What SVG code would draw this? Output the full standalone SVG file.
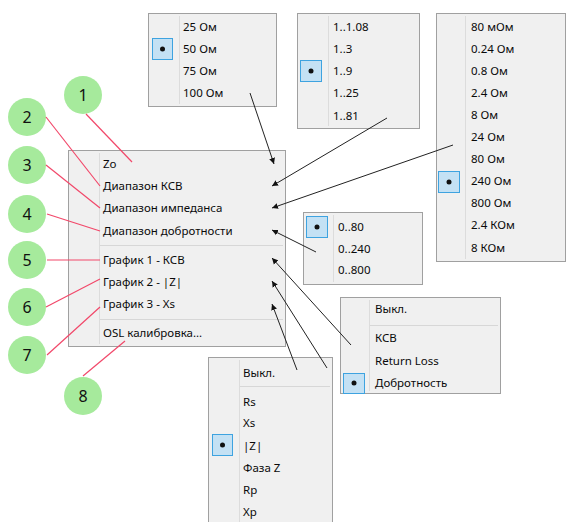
<svg xmlns="http://www.w3.org/2000/svg" width="567" height="522" viewBox="0 0 567 522">
  <style>
    .menu { fill: #f0f0f0; stroke: #a0a0a0; stroke-width: 1; }
    .gutter { stroke: #dcdcdc; stroke-width: 1; }
    .sep { stroke: #d7d7d7; stroke-width: 1; }
    .item { font-family: "Noto Sans", "Open Sans", sans-serif; font-size: 11.5px; fill: #0a0a0a; }
    .chk { fill: #c4e1f4; stroke: #3ea3e0; stroke-width: 1; }
    .dot { fill: #111; }
    .badge { fill: #a6ea9c; }
    .num { font-family: "Noto Sans", "Liberation Sans", sans-serif; font-size: 16px; fill: #111; text-anchor: middle; }
    .lead { stroke: #f2486a; stroke-width: 1.2; fill: none; }
    .link { stroke: #222; stroke-width: 1; fill: none; marker-end: url(#tri); }
  </style>
  <defs>
    <marker id="tri" viewBox="0 0 7 7" refX="6" refY="3.5" markerWidth="7" markerHeight="7" markerUnits="userSpaceOnUse" orient="auto">
      <path d="M0,0.5 L6,3.5 L0,6.5 Z" fill="#111"/>
    </marker>
  </defs>

  <!-- Zo submenu -->
  <g id="menu-zo">
    <rect class="menu" x="148.5" y="13.5" width="128" height="93"/>
    <line class="gutter" x1="179.5" y1="16" x2="179.5" y2="104"/>
    <rect class="chk" x="152.5" y="38.5" width="20" height="21"/>
    <circle class="dot" cx="162.5" cy="49" r="2.5"/>
    <text class="item" x="183" y="31">25 Ом</text>
    <text class="item" x="183" y="53">50 Ом</text>
    <text class="item" x="183" y="75">75 Ом</text>
    <text class="item" x="183" y="97">100 Ом</text>
  </g>

  <!-- VSWR range submenu -->
  <g id="menu-vswr">
    <rect class="menu" x="297.5" y="13.5" width="122" height="115"/>
    <line class="gutter" x1="328.5" y1="16" x2="328.5" y2="126"/>
    <rect class="chk" x="300.5" y="60.5" width="21" height="21"/>
    <circle class="dot" cx="311" cy="71" r="2.5"/>
    <text class="item" x="333" y="31">1..1.08</text>
    <text class="item" x="333" y="53">1..3</text>
    <text class="item" x="333" y="75">1..9</text>
    <text class="item" x="333" y="97">1..25</text>
    <text class="item" x="333" y="120">1..81</text>
  </g>

  <!-- Impedance range submenu -->
  <g id="menu-impedance">
    <rect class="menu" x="436.5" y="13.5" width="129" height="248"/>
    <line class="gutter" x1="465.5" y1="16" x2="465.5" y2="259"/>
    <rect class="chk" x="438.5" y="171.5" width="21" height="21"/>
    <circle class="dot" cx="449" cy="182" r="2.5"/>
    <text class="item" x="471" y="31">80 мОм</text>
    <text class="item" x="471" y="53">0.24 Ом</text>
    <text class="item" x="471" y="75">0.8 Ом</text>
    <text class="item" x="471" y="97">2.4 Ом</text>
    <text class="item" x="471" y="119">8 Ом</text>
    <text class="item" x="471" y="141">24 Ом</text>
    <text class="item" x="471" y="163">80 Ом</text>
    <text class="item" x="471" y="185">240 Ом</text>
    <text class="item" x="471" y="207">800 Ом</text>
    <text class="item" x="471" y="229">2.4 КОм</text>
    <text class="item" x="471" y="252">8 КОм</text>
  </g>

  <!-- Q range submenu -->
  <g id="menu-q">
    <rect class="menu" x="303.5" y="212.5" width="119" height="72"/>
    <line class="gutter" x1="333.5" y1="215" x2="333.5" y2="282"/>
    <rect class="chk" x="306.5" y="216.5" width="21" height="21"/>
    <circle class="dot" cx="317" cy="227" r="2.5"/>
    <text class="item" x="338" y="231">0..80</text>
    <text class="item" x="338" y="253">0..240</text>
    <text class="item" x="338" y="274">0..800</text>
  </g>

  <!-- Plot 1 submenu -->
  <g id="menu-plot1">
    <rect class="menu" x="340.5" y="297.5" width="160" height="96"/>
    <line class="gutter" x1="369.5" y1="300" x2="369.5" y2="391"/>
    <line class="sep" x1="370" y1="325.5" x2="498" y2="325.5"/>
    <rect class="chk" x="343.5" y="373.5" width="21" height="20"/>
    <circle class="dot" cx="354" cy="383" r="2.5"/>
    <text class="item" x="375" y="313">Выкл.</text>
    <text class="item" x="375" y="342">КСВ</text>
    <text class="item" x="375" y="365">Return Loss</text>
    <text class="item" x="375" y="387">Добротность</text>
  </g>

  <!-- Plot 2/3 submenu -->
  <g id="menu-plot23">
    <rect class="menu" x="208.5" y="357.5" width="124" height="170"/>
    <line class="gutter" x1="239.5" y1="360" x2="239.5" y2="522"/>
    <line class="sep" x1="240" y1="386.5" x2="330" y2="386.5"/>
    <rect class="chk" x="212.5" y="434.5" width="20" height="21"/>
    <circle class="dot" cx="222.5" cy="445" r="2.5"/>
    <text class="item" x="243" y="377">Выкл.</text>
    <text class="item" x="243" y="406">Rs</text>
    <text class="item" x="243" y="427">Xs</text>
    <text class="item" x="243" y="450">|Z|</text>
    <text class="item" x="243" y="472">Фаза Z</text>
    <text class="item" x="243" y="494">Rp</text>
    <text class="item" x="243" y="516">Xp</text>
  </g>

  <!-- Main context menu -->
  <g id="menu-main">
    <rect class="menu" x="68.5" y="150.5" width="217" height="196"/>
    <line class="gutter" x1="99.5" y1="153" x2="99.5" y2="344"/>
    <line class="sep" x1="100" y1="245.5" x2="283" y2="245.5"/>
    <line class="sep" x1="100" y1="319.5" x2="283" y2="319.5"/>
    <text class="item" x="103" y="168">Zo</text>
    <text class="item" x="103" y="190">Диапазон КСВ</text>
    <text class="item" x="103" y="212">Диапазон импеданса</text>
    <text class="item" x="103" y="235">Диапазон добротности</text>
    <text class="item" x="103" y="264">График 1 - КСВ</text>
    <text class="item" x="103" y="286">График 2 - |Z|</text>
    <text class="item" x="103" y="308">График 3 - Xs</text>
    <text class="item" x="103" y="337">OSL калибровка...</text>
  </g>

  <!-- Numbered callouts -->
  <g id="badge-1"><circle class="badge" cx="83" cy="95" r="19"/><text class="num" x="83" y="101">1</text></g>
  <g id="badge-2"><circle class="badge" cx="27" cy="117" r="19"/><text class="num" x="27" y="123">2</text></g>
  <g id="badge-3"><circle class="badge" cx="27" cy="165" r="19"/><text class="num" x="27" y="171">3</text></g>
  <g id="badge-4"><circle class="badge" cx="27" cy="214" r="19"/><text class="num" x="27" y="220">4</text></g>
  <g id="badge-5"><circle class="badge" cx="27" cy="260" r="19"/><text class="num" x="27" y="266">5</text></g>
  <g id="badge-6"><circle class="badge" cx="27" cy="307" r="19"/><text class="num" x="27" y="313">6</text></g>
  <g id="badge-7"><circle class="badge" cx="27" cy="355" r="19"/><text class="num" x="27" y="361">7</text></g>
  <g id="badge-8"><circle class="badge" cx="83" cy="396" r="19"/><text class="num" x="83" y="402">8</text></g>

  <!-- Callout leaders -->
  <g id="leaders">
    <line class="lead" x1="86" y1="114" x2="132" y2="162"/>
    <line class="lead" x1="46" y1="117" x2="100" y2="186"/>
    <line class="lead" x1="46" y1="165" x2="100" y2="208"/>
    <line class="lead" x1="47" y1="214" x2="100" y2="231"/>
    <line class="lead" x1="47" y1="260" x2="100" y2="260"/>
    <line class="lead" x1="46" y1="307" x2="100" y2="279"/>
    <line class="lead" x1="47" y1="355" x2="100" y2="307"/>
    <line class="lead" x1="83" y1="376" x2="125" y2="341"/>
  </g>

  <!-- Submenu connectors -->
  <g id="connectors">
    <line class="link" x1="250" y1="93" x2="274" y2="164"/>
    <line class="link" x1="387" y1="118" x2="272" y2="186"/>
    <line class="link" x1="453" y1="145" x2="272" y2="208"/>
    <line class="link" x1="316" y1="252" x2="272" y2="230"/>
    <line class="link" x1="351" y1="345" x2="272" y2="258"/>
    <line class="link" x1="327" y1="368" x2="272" y2="281"/>
    <line class="link" x1="297" y1="370" x2="272" y2="304"/>
  </g>
</svg>
